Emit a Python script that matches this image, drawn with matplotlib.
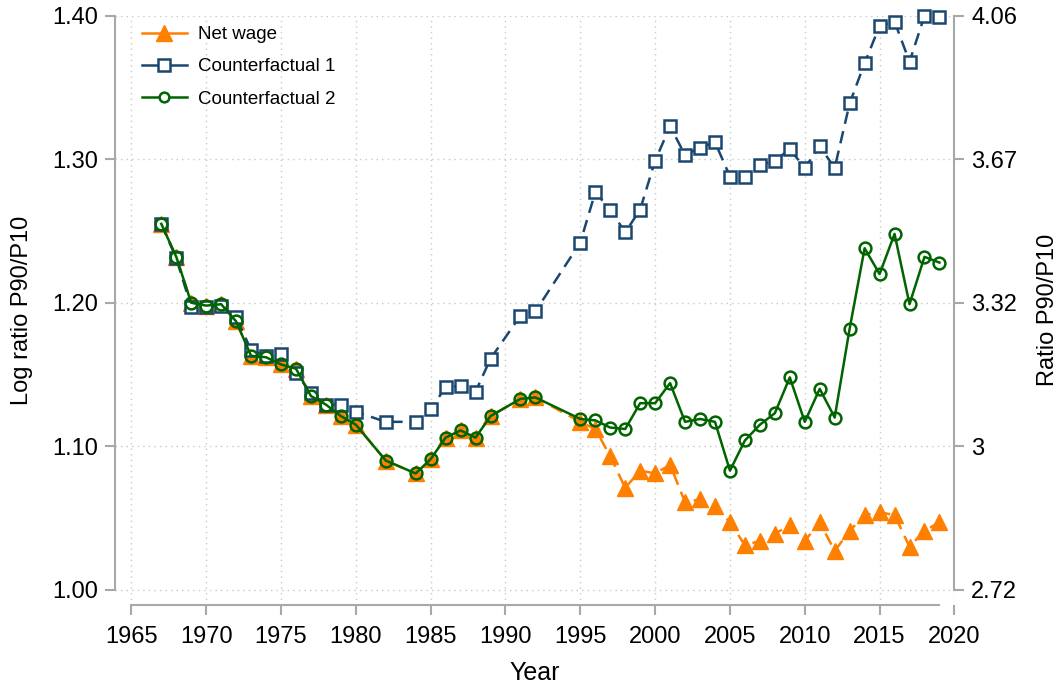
import numpy as np
import matplotlib
matplotlib.use('Agg')
import matplotlib.pyplot as plt
from matplotlib.lines import Line2D

plt.rcParams['font.family'] = ['Liberation Sans Narrow', 'Liberation Sans', 'DejaVu Sans']

# Data
years = [1967, 1968, 1969, 1970, 1971, 1972, 1973, 1974, 1975, 1976, 1977, 1978,
         1979, 1980, 1982, 1984, 1985, 1986, 1987, 1988, 1989, 1991, 1992, 1995,
         1996, 1997, 1998, 1999, 2000, 2001, 2002, 2003, 2004, 2005, 2006, 2007,
         2008, 2009, 2010, 2011, 2012, 2013, 2014, 2015, 2016, 2017, 2018, 2019]

net_wage = [1.255, 1.232, 1.200, 1.198, 1.199, 1.187, 1.163, 1.162, 1.157, 1.154,
            1.135, 1.129, 1.121, 1.115, 1.090, 1.081, 1.091, 1.106, 1.111, 1.106,
            1.121, 1.133, 1.134, 1.117, 1.112, 1.093, 1.071, 1.083, 1.081, 1.087,
            1.061, 1.063, 1.058, 1.047, 1.031, 1.034, 1.039, 1.045, 1.034, 1.047,
            1.027, 1.041, 1.052, 1.054, 1.052, 1.030, 1.041, 1.047]

counterfactual_1 = [1.255, 1.231, 1.197, 1.197, 1.198, 1.190, 1.167, 1.163, 1.164, 1.151,
                    1.137, 1.129, 1.129, 1.124, 1.117, 1.117, 1.126, 1.141, 1.142, 1.138,
                    1.161, 1.191, 1.194, 1.242, 1.277, 1.265, 1.249, 1.265, 1.299, 1.323,
                    1.303, 1.308, 1.312, 1.288, 1.288, 1.296, 1.299, 1.307, 1.294, 1.309,
                    1.294, 1.339, 1.367, 1.393, 1.396, 1.368, 1.400, 1.399]

counterfactual_2 = [1.255, 1.232, 1.200, 1.198, 1.199, 1.187, 1.163, 1.162, 1.157, 1.154,
                    1.135, 1.129, 1.121, 1.115, 1.090, 1.081, 1.091, 1.106, 1.111, 1.106,
                    1.121, 1.133, 1.134, 1.119, 1.118, 1.113, 1.112, 1.130, 1.130, 1.144,
                    1.117, 1.119, 1.117, 1.083, 1.104, 1.115, 1.123, 1.148, 1.117, 1.140,
                    1.120, 1.182, 1.238, 1.220, 1.248, 1.199, 1.232, 1.228]

y_ticks = [1.00, 1.10, 1.20, 1.30, 1.40]
x_ticks = list(range(1965, 2021, 5))

orange = '#FF8000'
navy = '#1A476F'
green = '#006400'
axis_gray = '#A8A8A8'

fig = plt.figure(figsize=(10.64, 6.88), dpi=100)
ax = fig.add_axes([0.108, 0.121, 0.789, 0.856])

ax.plot(years, net_wage, color=orange, lw=1.8, ls=(0, (5, 3)), marker='^', ms=11,
        mfc=orange, mec=orange, clip_on=False, zorder=3)
ax.plot(years, counterfactual_1, color=navy, lw=1.8, ls=(0, (5, 3)), marker='s', ms=8,
        mfc='white', mec=navy, mew=1.8, clip_on=False, zorder=4)
ax.plot(years, counterfactual_2, color=green, lw=1.8, ls='-', marker='o', ms=8.5,
        mfc='none', mec=green, mew=1.8, clip_on=False, zorder=5)

ax.set_xlim(1963.9, 2020)
ax.set_ylim(0.9895, 1.40)
ax.set_xticks(x_ticks)
ax.set_yticks(y_ticks)
ax.set_yticklabels([f'{v:.2f}' for v in y_ticks])

ax.grid(True, color='#C8C8C8', ls=(0, (1, 3)), lw=1.0)
ax.set_axisbelow(True)

for s in ['top', 'right']:
    ax.spines[s].set_visible(False)
ax.spines['left'].set_bounds(1.0, 1.4)
ax.spines['bottom'].set_bounds(1965, 2019)
for s in ['left', 'bottom']:
    ax.spines[s].set_color(axis_gray)
    ax.spines[s].set_linewidth(1.5)

ax.tick_params(axis='both', colors=axis_gray, width=1.5, length=7, labelsize=17,
               labelcolor='black')
ax.tick_params(axis='y', pad=5)
ax.tick_params(axis='x', pad=8)

ax.set_xlabel('Year', fontsize=18, labelpad=10)
ax.set_ylabel('Log ratio P90/P10', fontsize=17, labelpad=14)

# right axis shows the same values as plain ratios
ax2 = ax.twinx()
ax2.set_ylim(ax.get_ylim())
ax2.set_yticks(y_ticks)
ax2.set_yticklabels([f'{np.exp(v):.3g}' for v in y_ticks])
for s in ['top', 'left', 'bottom']:
    ax2.spines[s].set_visible(False)
ax2.spines['right'].set_bounds(1.0, 1.4)
ax2.spines['right'].set_color(axis_gray)
ax2.spines['right'].set_linewidth(1.5)
ax2.tick_params(axis='y', colors=axis_gray, width=1.5, length=7, labelsize=17,
                labelcolor='black', pad=5)
ax2.set_ylabel('Ratio P90/P10', fontsize=17, labelpad=14)

handles = [
    Line2D([], [], color=orange, lw=1.8, marker='^', ms=11, mfc=orange, mec=orange),
    Line2D([], [], color=navy, lw=1.8, marker='s', ms=8, mfc='white', mec=navy, mew=1.8),
    Line2D([], [], color=green, lw=1.8, marker='o', ms=7, mfc='white', mec=green, mew=1.8),
]
labels = ['Net wage', 'Counterfactual 1', 'Counterfactual 2']
ax.legend(handles, labels, loc='upper left', bbox_to_anchor=(0.012, 1.011), frameon=False,
          fontsize=13.5, handlelength=2.4, labelspacing=0.8, handletextpad=0.6)

fig.savefig('out.png', dpi=100)
